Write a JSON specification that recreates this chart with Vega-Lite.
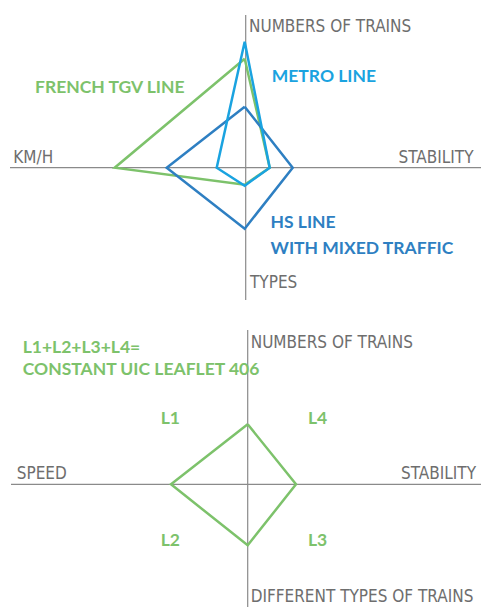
{
  "$schema": "https://vega.github.io/schema/vega-lite/v6.json",
  "padding": 0,
  "spacing": 0,
  "background": "white",
  "config": {"view": {"stroke": null}},
  "datasets": {
    "axes1": [
      {"x": -235.7, "x2": 235.3, "y": 0, "y2": 0},
      {"x": 0, "x2": 0, "y": 152.7, "y2": -132.3}
    ],
    "poly1": [
      {"series": "French TGV line", "order": 1, "x": -1, "y": 109},
      {"series": "French TGV line", "order": 2, "x": 24, "y": 0},
      {"series": "French TGV line", "order": 3, "x": -1, "y": -17},
      {"series": "French TGV line", "order": 4, "x": -131, "y": 0},
      {"series": "French TGV line", "order": 5, "x": -1, "y": 109},
      {"series": "HS line with mixed traffic", "order": 1, "x": -1, "y": 61},
      {"series": "HS line with mixed traffic", "order": 2, "x": 47, "y": 0},
      {"series": "HS line with mixed traffic", "order": 3, "x": -1, "y": -61},
      {"series": "HS line with mixed traffic", "order": 4, "x": -79, "y": 0},
      {"series": "HS line with mixed traffic", "order": 5, "x": -1, "y": 61},
      {"series": "Metro line", "order": 1, "x": -1, "y": 126},
      {"series": "Metro line", "order": 2, "x": 24, "y": 0},
      {"series": "Metro line", "order": 3, "x": -1, "y": -18},
      {"series": "Metro line", "order": 4, "x": -29, "y": 0},
      {"series": "Metro line", "order": 5, "x": -1, "y": 126}
    ],
    "labels1": [
      {"text": "NUMBERS OF TRAINS", "side": "left", "x": 3.3, "y": 136},
      {"text": "KM/H", "side": "left", "x": -232.4, "y": 5},
      {"text": "STABILITY", "side": "right", "x": 227.8, "y": 4.4},
      {"text": "TYPES", "side": "left", "x": 4.3, "y": -120.3}
    ],
    "names1": [
      {"text": "FRENCH TGV LINE", "series": "French TGV line", "x": -210.7, "y": 75},
      {"text": "METRO LINE", "series": "Metro line", "x": 26, "y": 86},
      {"text": "HS LINE", "series": "HS line with mixed traffic", "x": 24.8, "y": -60.6},
      {"text": "WITH MIXED TRAFFIC", "series": "HS line with mixed traffic", "x": 24.8, "y": -86.3}
    ],
    "axes2": [
      {"x": -236.7, "x2": 233.3, "y": 0, "y2": 0},
      {"x": 0, "x2": 0, "y": 154.3, "y2": -123.7}
    ],
    "poly2": [
      {"series": "UIC 406", "order": 1, "x": 0, "y": 60},
      {"series": "UIC 406", "order": 2, "x": 48.3, "y": 0},
      {"series": "UIC 406", "order": 3, "x": 0, "y": -61},
      {"series": "UIC 406", "order": 4, "x": -76.7, "y": 0},
      {"series": "UIC 406", "order": 5, "x": 0, "y": 60}
    ],
    "labels2": [
      {"text": "NUMBERS OF TRAINS", "side": "left", "x": 3, "y": 136.6},
      {"text": "SPEED", "side": "left", "x": -231, "y": 5},
      {"text": "STABILITY", "side": "right", "x": 228.3, "y": 5},
      {"text": "DIFFERENT TYPES OF TRAINS", "side": "left", "x": 3, "y": -118}
    ],
    "names2": [
      {"text": "L1+L2+L3+L4=", "series": "UIC 406", "x": -225, "y": 131.6},
      {"text": "CONSTANT UIC LEAFLET 406", "series": "UIC 406", "x": -225, "y": 109.3},
      {"text": "L1", "series": "UIC 406", "x": -87, "y": 60},
      {"text": "L4", "series": "UIC 406", "x": 60.3, "y": 60},
      {"text": "L2", "series": "UIC 406", "x": -87, "y": -61.7},
      {"text": "L3", "series": "UIC 406", "x": 60.3, "y": -61.7}
    ]
  },
  "vconcat": [
    {
      "width": 481,
      "height": 300,
      "layer": [
        {
          "data": {"name": "axes1"},
          "mark": {"type": "rule", "color": "#8a8a8a", "strokeWidth": 1.2},
          "encoding": {
            "x": {"field": "x", "type": "quantitative", "scale": {"domain": [-245.7, 235.3], "nice": false, "zero": false}, "axis": null},
            "x2": {"field": "x2"},
            "y": {"field": "y", "type": "quantitative", "scale": {"domain": [-132.3, 167.7], "nice": false, "zero": false}, "axis": null},
            "y2": {"field": "y2"}
          }
        },
        {
          "data": {"name": "poly1"},
          "mark": {"type": "line", "strokeWidth": 2.5, "strokeJoin": "miter"},
          "encoding": {
            "x": {"field": "x", "type": "quantitative", "scale": {"domain": [-245.7, 235.3], "nice": false, "zero": false}, "axis": null},
            "y": {"field": "y", "type": "quantitative", "scale": {"domain": [-132.3, 167.7], "nice": false, "zero": false}, "axis": null},
            "order": {"field": "order", "type": "quantitative"},
            "color": {"field": "series", "type": "nominal", "legend": null,
              "scale": {"domain": ["French TGV line", "Metro line", "HS line with mixed traffic", "UIC 406"], "range": ["#7dc26b", "#1aa3e0", "#2e7fc2", "#7dc26b"]}}
          }
        },
        {
          "data": {"name": "labels1"},
          "transform": [{"filter": "datum.side == 'left'"}],
          "mark": {"type": "text", "align": "left", "baseline": "alphabetic", "font": "Liberation Sans Narrow, DejaVu Sans Condensed, Roboto", "fontSize": 17, "color": "#6e6e6e"},
          "encoding": {
            "x": {"field": "x", "type": "quantitative"},
            "y": {"field": "y", "type": "quantitative"},
            "text": {"field": "text"}
          }
        },
        {
          "data": {"name": "labels1"},
          "transform": [{"filter": "datum.side == 'right'"}],
          "mark": {"type": "text", "align": "right", "baseline": "alphabetic", "font": "Liberation Sans Narrow, DejaVu Sans Condensed, Roboto", "fontSize": 17, "color": "#6e6e6e"},
          "encoding": {
            "x": {"field": "x", "type": "quantitative"},
            "y": {"field": "y", "type": "quantitative"},
            "text": {"field": "text"}
          }
        },
        {
          "data": {"name": "names1"},
          "mark": {"type": "text", "align": "left", "baseline": "alphabetic", "font": "Lato", "fontWeight": "bold", "fontSize": 17.5},
          "encoding": {
            "x": {"field": "x", "type": "quantitative"},
            "y": {"field": "y", "type": "quantitative"},
            "text": {"field": "text"},
            "color": {"field": "series", "type": "nominal", "legend": null}
          }
        }
      ]
    },
    {
      "width": 481,
      "height": 307,
      "layer": [
        {
          "data": {"name": "axes2"},
          "mark": {"type": "rule", "color": "#8a8a8a", "strokeWidth": 1.2},
          "encoding": {
            "x": {"field": "x", "type": "quantitative", "scale": {"domain": [-247.7, 233.3], "nice": false, "zero": false}, "axis": null},
            "x2": {"field": "x2"},
            "y": {"field": "y", "type": "quantitative", "scale": {"domain": [-123.7, 183.3], "nice": false, "zero": false}, "axis": null},
            "y2": {"field": "y2"}
          }
        },
        {
          "data": {"name": "poly2"},
          "mark": {"type": "line", "strokeWidth": 2.5, "strokeJoin": "miter"},
          "encoding": {
            "x": {"field": "x", "type": "quantitative", "scale": {"domain": [-247.7, 233.3], "nice": false, "zero": false}, "axis": null},
            "y": {"field": "y", "type": "quantitative", "scale": {"domain": [-123.7, 183.3], "nice": false, "zero": false}, "axis": null},
            "order": {"field": "order", "type": "quantitative"},
            "color": {"field": "series", "type": "nominal", "legend": null,
              "scale": {"domain": ["French TGV line", "Metro line", "HS line with mixed traffic", "UIC 406"], "range": ["#7dc26b", "#1aa3e0", "#2e7fc2", "#7dc26b"]}}
          }
        },
        {
          "data": {"name": "labels2"},
          "transform": [{"filter": "datum.side == 'left'"}],
          "mark": {"type": "text", "align": "left", "baseline": "alphabetic", "font": "Liberation Sans Narrow, DejaVu Sans Condensed, Roboto", "fontSize": 17, "color": "#6e6e6e"},
          "encoding": {
            "x": {"field": "x", "type": "quantitative"},
            "y": {"field": "y", "type": "quantitative"},
            "text": {"field": "text"}
          }
        },
        {
          "data": {"name": "labels2"},
          "transform": [{"filter": "datum.side == 'right'"}],
          "mark": {"type": "text", "align": "right", "baseline": "alphabetic", "font": "Liberation Sans Narrow, DejaVu Sans Condensed, Roboto", "fontSize": 17, "color": "#6e6e6e"},
          "encoding": {
            "x": {"field": "x", "type": "quantitative"},
            "y": {"field": "y", "type": "quantitative"},
            "text": {"field": "text"}
          }
        },
        {
          "data": {"name": "names2"},
          "mark": {"type": "text", "align": "left", "baseline": "alphabetic", "font": "Lato", "fontWeight": "bold", "fontSize": 17.5},
          "encoding": {
            "x": {"field": "x", "type": "quantitative"},
            "y": {"field": "y", "type": "quantitative"},
            "text": {"field": "text"},
            "color": {"field": "series", "type": "nominal", "legend": null}
          }
        }
      ]
    }
  ]
}
